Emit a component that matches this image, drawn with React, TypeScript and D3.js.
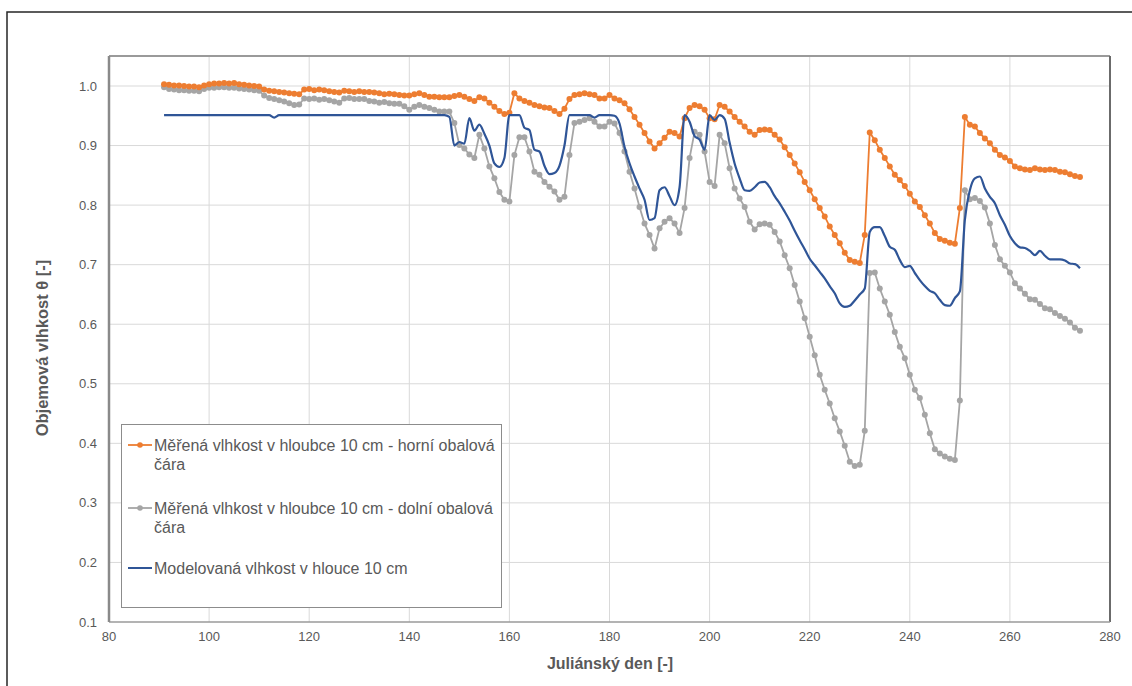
import React, { useRef, useEffect } from "react";
import * as d3 from "d3";

// julian days 91..274, one value per day
const days = d3.range(91, 275);

// upper envelope of measured moisture (orange)
const upperMeasured = [
  1.003, 1.002, 1.001, 1.001, 1.000, 0.999, 0.999, 0.998, 1.001, 1.003, // 91-100
  1.004, 1.004, 1.005, 1.004, 1.005, 1.003, 1.002, 1.001, 1.000, 0.999, // 101-110
  0.994, 0.992, 0.991, 0.990, 0.989, 0.988, 0.987, 0.986, 0.994, 0.995, // 111-120
  0.993, 0.994, 0.993, 0.991, 0.990, 0.989, 0.992, 0.991, 0.990, 0.991, // 121-130
  0.990, 0.990, 0.989, 0.988, 0.986, 0.987, 0.986, 0.985, 0.984, 0.984, // 131-140
  0.986, 0.988, 0.985, 0.982, 0.982, 0.981, 0.981, 0.981, 0.983, 0.985, // 141-150
  0.982, 0.978, 0.975, 0.981, 0.979, 0.972, 0.965, 0.958, 0.953, 0.955, // 151-160
  0.988, 0.979, 0.975, 0.972, 0.968, 0.966, 0.964, 0.963, 0.958, 0.953, // 161-170
  0.962, 0.978, 0.985, 0.986, 0.988, 0.986, 0.985, 0.979, 0.979, 0.985, // 171-180
  0.979, 0.976, 0.971, 0.961, 0.948, 0.935, 0.921, 0.907, 0.895, 0.904, // 181-190
  0.913, 0.923, 0.921, 0.915, 0.946, 0.963, 0.968, 0.966, 0.960, 0.946, // 191-200
  0.944, 0.968, 0.965, 0.957, 0.948, 0.940, 0.932, 0.923, 0.918, 0.926, // 201-210
  0.927, 0.926, 0.918, 0.910, 0.897, 0.884, 0.870, 0.855, 0.839, 0.825, // 211-220
  0.810, 0.795, 0.781, 0.764, 0.750, 0.736, 0.720, 0.708, 0.705, 0.703, // 221-230
  0.750, 0.922, 0.909, 0.893, 0.879, 0.865, 0.851, 0.842, 0.832, 0.819, // 231-240
  0.806, 0.797, 0.783, 0.769, 0.753, 0.743, 0.740, 0.737, 0.735, 0.795, // 241-250
  0.948, 0.935, 0.932, 0.921, 0.912, 0.904, 0.893, 0.884, 0.880, 0.874, // 251-260
  0.865, 0.862, 0.860, 0.859, 0.862, 0.860, 0.859, 0.860, 0.859, 0.856, // 261-270
  0.855, 0.852, 0.849, 0.847, // 271-274
];

// lower envelope of measured moisture (grey)
const lowerMeasured = [
  0.998, 0.995, 0.994, 0.993, 0.993, 0.992, 0.992, 0.991, 0.995, 0.997,
  0.997, 0.998, 0.998, 0.997, 0.997, 0.996, 0.995, 0.994, 0.993, 0.992,
  0.984, 0.980, 0.978, 0.976, 0.974, 0.971, 0.968, 0.969, 0.979, 0.978,
  0.979, 0.977, 0.978, 0.976, 0.974, 0.972, 0.979, 0.980, 0.978, 0.978,
  0.978, 0.975, 0.974, 0.972, 0.973, 0.971, 0.970, 0.970, 0.966, 0.960,
  0.965, 0.968, 0.965, 0.963, 0.960, 0.957, 0.957, 0.957, 0.938, 0.901,
  0.895, 0.885, 0.879, 0.918, 0.895, 0.865, 0.845, 0.822, 0.809, 0.806,
  0.884, 0.914, 0.914, 0.890, 0.856, 0.851, 0.839, 0.831, 0.823, 0.809,
  0.814, 0.884, 0.938, 0.940, 0.943, 0.946, 0.940, 0.932, 0.932, 0.940,
  0.937, 0.921, 0.890, 0.856, 0.828, 0.797, 0.769, 0.750, 0.727, 0.761,
  0.772, 0.778, 0.769, 0.753, 0.795, 0.879, 0.923, 0.918, 0.890, 0.839,
  0.832, 0.918, 0.904, 0.862, 0.828, 0.811, 0.797, 0.772, 0.759, 0.768,
  0.769, 0.767, 0.755, 0.739, 0.716, 0.694, 0.666, 0.638, 0.610, 0.579,
  0.548, 0.515, 0.490, 0.467, 0.442, 0.420, 0.396, 0.369, 0.362, 0.364,
  0.421, 0.686, 0.687, 0.660, 0.638, 0.616, 0.587, 0.562, 0.543, 0.515,
  0.490, 0.476, 0.448, 0.417, 0.390, 0.383, 0.378, 0.374, 0.372, 0.472,
  0.825, 0.810, 0.812, 0.807, 0.796, 0.769, 0.733, 0.709, 0.698, 0.687,
  0.669, 0.660, 0.651, 0.642, 0.641, 0.634, 0.627, 0.625, 0.619, 0.614,
  0.609, 0.603, 0.594, 0.589,
];

// modelled moisture (blue)
const modelled = [
  0.951, 0.951, 0.951, 0.951, 0.951, 0.951, 0.951, 0.951, 0.951, 0.951,
  0.951, 0.951, 0.951, 0.951, 0.951, 0.951, 0.951, 0.951, 0.951, 0.951,
  0.951, 0.951, 0.947, 0.951, 0.951, 0.951, 0.951, 0.951, 0.951, 0.951,
  0.951, 0.951, 0.951, 0.951, 0.951, 0.951, 0.951, 0.951, 0.951, 0.951,
  0.951, 0.951, 0.951, 0.951, 0.951, 0.951, 0.951, 0.951, 0.951, 0.951,
  0.951, 0.951, 0.951, 0.951, 0.951, 0.951, 0.951, 0.948, 0.900, 0.906,
  0.903, 0.946, 0.925, 0.935, 0.920, 0.900, 0.870, 0.864, 0.879, 0.951,
  0.951, 0.951, 0.930, 0.926, 0.893, 0.890, 0.866, 0.852, 0.854, 0.866,
  0.900, 0.951, 0.951, 0.951, 0.951, 0.951, 0.947, 0.951, 0.951, 0.951,
  0.950, 0.937, 0.898, 0.870, 0.848, 0.828, 0.809, 0.775, 0.778, 0.825,
  0.830, 0.815, 0.800, 0.830, 0.951, 0.940, 0.916, 0.910, 0.893, 0.951,
  0.943, 0.951, 0.945, 0.905, 0.870, 0.845, 0.825, 0.824, 0.830, 0.838,
  0.839, 0.830, 0.815, 0.803, 0.789, 0.774, 0.757, 0.741, 0.726, 0.710,
  0.699, 0.688, 0.677, 0.664, 0.652, 0.635, 0.629, 0.631, 0.640, 0.650,
  0.660, 0.755, 0.763, 0.763, 0.748, 0.730, 0.725, 0.708, 0.696, 0.698,
  0.686, 0.674, 0.664, 0.656, 0.652, 0.641, 0.632, 0.631, 0.644, 0.655,
  0.775, 0.825, 0.845, 0.848, 0.828, 0.814, 0.803, 0.783, 0.767, 0.748,
  0.736, 0.729, 0.728, 0.723, 0.716, 0.723, 0.715, 0.709, 0.709, 0.709,
  0.707, 0.702, 0.701, 0.694,
];

const xTicks = d3.range(80, 281, 20);
const yTicks = d3.range(1, 11).map(d => d / 10);

const legendLabels = [
  ["Měřená vlhkost v hloubce 10 cm - horní obalová", "čára"],
  ["Měřená vlhkost v hloubce 10 cm - dolní obalová", "čára"],
  ["Modelovaná vlhkost v hlouce 10 cm"],
];
const seriesColors = ["#ED7D31", "#A5A5A5", "#2F5597"];

function App() {
  const svgRef = useRef(null);

  useEffect(() => {
    const width = 1132, height = 686;
    const plotTop = 56;
    const x = d3.scaleLinear().domain([80, 280]).range([109, 1110]);
    const y = d3.scaleLinear().domain([0.1, 1.0]).range([622, 86]);
    const font = "'Liberation Sans', Arial, sans-serif";
    const textColor = "#595959";

    const svg = d3.select(svgRef.current);
    svg.selectAll("*").remove();
    svg.attr("width", width).attr("height", height)
      .style("font-family", font);

    svg.append("rect").attr("width", width).attr("height", height).attr("fill", "#fff");

    // outer frame
    svg.append("rect")
      .attr("x", 7).attr("y", 12).attr("width", width + 20).attr("height", height)
      .attr("fill", "none").attr("stroke", "#262626").attr("stroke-width", 1.5);

    // gridlines
    const grid = svg.append("g").attr("stroke", "#d9d9d9").attr("stroke-width", 1);
    grid.selectAll(".gx").data(xTicks.slice(1, -1)).join("line")
      .attr("x1", d => x(d)).attr("x2", d => x(d))
      .attr("y1", plotTop).attr("y2", y(0.1));
    grid.selectAll(".gy").data(yTicks.slice(1)).join("line")
      .attr("x1", x(80)).attr("x2", x(280))
      .attr("y1", d => y(d)).attr("y2", d => y(d));

    // plot border
    svg.append("line").attr("x1", x(80)).attr("x2", x(280)).attr("y1", plotTop).attr("y2", plotTop)
      .attr("stroke", "#9a9a9a").attr("stroke-width", 2);
    svg.append("line").attr("x1", x(280)).attr("x2", x(280)).attr("y1", plotTop).attr("y2", y(0.1))
      .attr("stroke", "#6b6b6b").attr("stroke-width", 2);
    svg.append("line").attr("x1", x(80)).attr("x2", x(280)).attr("y1", y(0.1)).attr("y2", y(0.1))
      .attr("stroke", "#9a9a9a").attr("stroke-width", 1.5);
    svg.append("line").attr("x1", x(80)).attr("x2", x(80)).attr("y1", plotTop).attr("y2", y(0.1))
      .attr("stroke", "#8a8a8a").attr("stroke-width", 2.5);

    // tick labels
    svg.append("g").selectAll("text").data(xTicks).join("text")
      .attr("x", d => x(d)).attr("y", y(0.1) + 19)
      .attr("text-anchor", "middle").attr("font-size", 13).attr("fill", textColor)
      .text(d => d);
    svg.append("g").selectAll("text").data(yTicks).join("text")
      .attr("x", x(80) - 12).attr("y", d => y(d) + 4.5)
      .attr("text-anchor", "end").attr("font-size", 13).attr("fill", textColor)
      .text(d => d3.format(".1f")(d));

    // axis titles
    svg.append("text")
      .attr("x", 610).attr("y", 669).attr("text-anchor", "middle")
      .attr("font-size", 16).attr("font-weight", "bold").attr("fill", textColor)
      .text("Juliánský den [-]");
    svg.append("text")
      .attr("transform", "translate(48,348) rotate(-90)").attr("text-anchor", "middle")
      .attr("font-size", 16.5).attr("font-weight", "bold").attr("fill", textColor)
      .text("Objemová vlhkost θ [-]");

    const straight = d3.line().x((d, i) => x(days[i])).y(d => y(d));
    const smooth = d3.line().x((d, i) => x(days[i])).y(d => y(d)).curve(d3.curveMonotoneX);

    // measured envelopes: line + markers
    [lowerMeasured, upperMeasured].forEach((vals, k) => {
      const color = k === 0 ? seriesColors[1] : seriesColors[0];
      svg.append("path").attr("d", straight(vals))
        .attr("fill", "none").attr("stroke", color).attr("stroke-width", 1.8);
      svg.append("g").selectAll("circle").data(vals).join("circle")
        .attr("cx", (d, i) => x(days[i])).attr("cy", d => y(d)).attr("r", 3)
        .attr("fill", color);
    });

    // model
    svg.append("path").attr("d", smooth(modelled))
      .attr("fill", "none").attr("stroke", seriesColors[2]).attr("stroke-width", 2.2)
      .attr("stroke-linejoin", "round");

    // legend
    const lg = svg.append("g");
    lg.append("rect").attr("x", 121.5).attr("y", 424.5).attr("width", 380).attr("height", 183)
      .attr("fill", "#fff").attr("stroke", "#8c8c8c").attr("stroke-width", 1);
    const rowY = [445, 508, 568];
    legendLabels.forEach((lines, i) => {
      const cy = rowY[i];
      lg.append("line").attr("x1", 128).attr("x2", 152).attr("y1", cy).attr("y2", cy)
        .attr("stroke", seriesColors[i]).attr("stroke-width", i === 2 ? 2 : 1.8);
      if (i < 2) {
        lg.append("circle").attr("cx", 140).attr("cy", cy).attr("r", 2.8).attr("fill", seriesColors[i]);
      }
      lines.forEach((t, j) => {
        lg.append("text").attr("x", 154).attr("y", cy + 5.5 + j * 19)
          .attr("font-size", 16).attr("fill", textColor).text(t);
      });
    });
  }, []);

  return (
    <svg ref={svgRef} style={{ position: "absolute", left: 0, top: 0, display: "block" }}></svg>
  );
}

export default App;
